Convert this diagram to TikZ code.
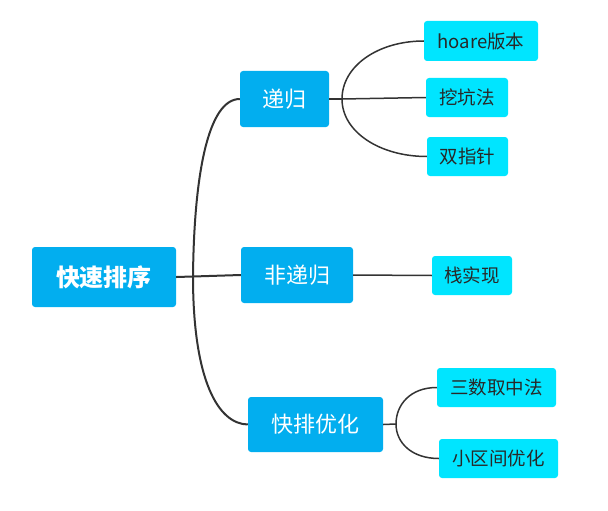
\documentclass[tikz,border=0pt]{standalone}
\usepackage{fontspec}
\newfontfamily\cjk{Noto Sans CJK SC}
\definecolor{mainblue}{RGB}{2,174,239}
\definecolor{leafcyan}{RGB}{0,229,255}
\definecolor{linegray}{RGB}{51,51,51}
\definecolor{leaftext}{RGB}{40,40,40}
\tikzset{
  rootbox/.style={fill=mainblue, rounded corners=3pt, text=white, font=\cjk\fontsize{24}{26}\selectfont\bfseries, inner sep=0pt, minimum width=144pt, minimum height=60pt},
  midbox/.style={fill=mainblue, rounded corners=3pt, text=white, font=\cjk\fontsize{22}{24}\selectfont, inner sep=0pt, minimum height=56pt},
  leafbox/.style={fill=leafcyan, rounded corners=3pt, text=leaftext, font=\cjk\fontsize{18.5}{20}\selectfont, inner sep=0pt, minimum height=39pt},
  trunk/.style={draw=linegray, line width=2pt},
  branch/.style={draw=linegray, line width=1.5pt},
}
\begin{document}
\begin{tikzpicture}[x=1pt,y=-1pt]
\useasboundingbox (0,0) rectangle (608,511);
\node[rootbox] (root) at (104,277) {快速排序};
\node[midbox, minimum width=89pt] (r1) at (284.5,99) {递归};
\node[midbox, minimum width=112pt] (r2) at (297,275) {非递归};
\node[midbox, minimum width=135pt, minimum height=55pt] (r3) at (315.5,424.5) {快排优化};
\node[leafbox, minimum width=114pt, minimum height=40pt] (l1) at (481,41) {hoare版本};
\node[leafbox, minimum width=82pt] (l2) at (467,97.5) {挖坑法};
\node[leafbox, minimum width=81pt] (l3) at (467.5,156.5) {双指针};
\node[leafbox, minimum width=80pt] (l4) at (472,275.5) {栈实现};
\node[leafbox, minimum width=119pt] (l5) at (496.5,387.5) {三数取中法};
\node[leafbox, minimum width=119pt] (l6) at (498.5,458.5) {小区间优化};
\coordinate (j0) at (193,276.5);
\coordinate (j1) at (342,99);
\coordinate (j3) at (396,424);
\draw[trunk] (root.east) -- (j0);
\draw[trunk] (j0) .. controls (194,175) and (208,99) .. (r1.west);
\draw[trunk] (j0) -- (r2.west);
\draw[trunk] (j0) .. controls (193,380) and (218,424) .. (r3.west);
\draw[branch] (r1.east) -- (j1);
\draw[branch] (j1) .. controls (342,66) and (378,41) .. (l1.west);
\draw[branch] (j1) -- (l2.west);
\draw[branch] (j1) .. controls (342,132) and (380,156.5) .. (l3.west);
\draw[branch] (r2.east) -- (l4.west);
\draw[branch] (r3.east) -- (j3);
\draw[branch] (j3) .. controls (396,405) and (410,387.5) .. (l5.west);
\draw[branch] (j3) .. controls (396,443) and (412,458.5) .. (l6.west);
\end{tikzpicture}
\end{document}
